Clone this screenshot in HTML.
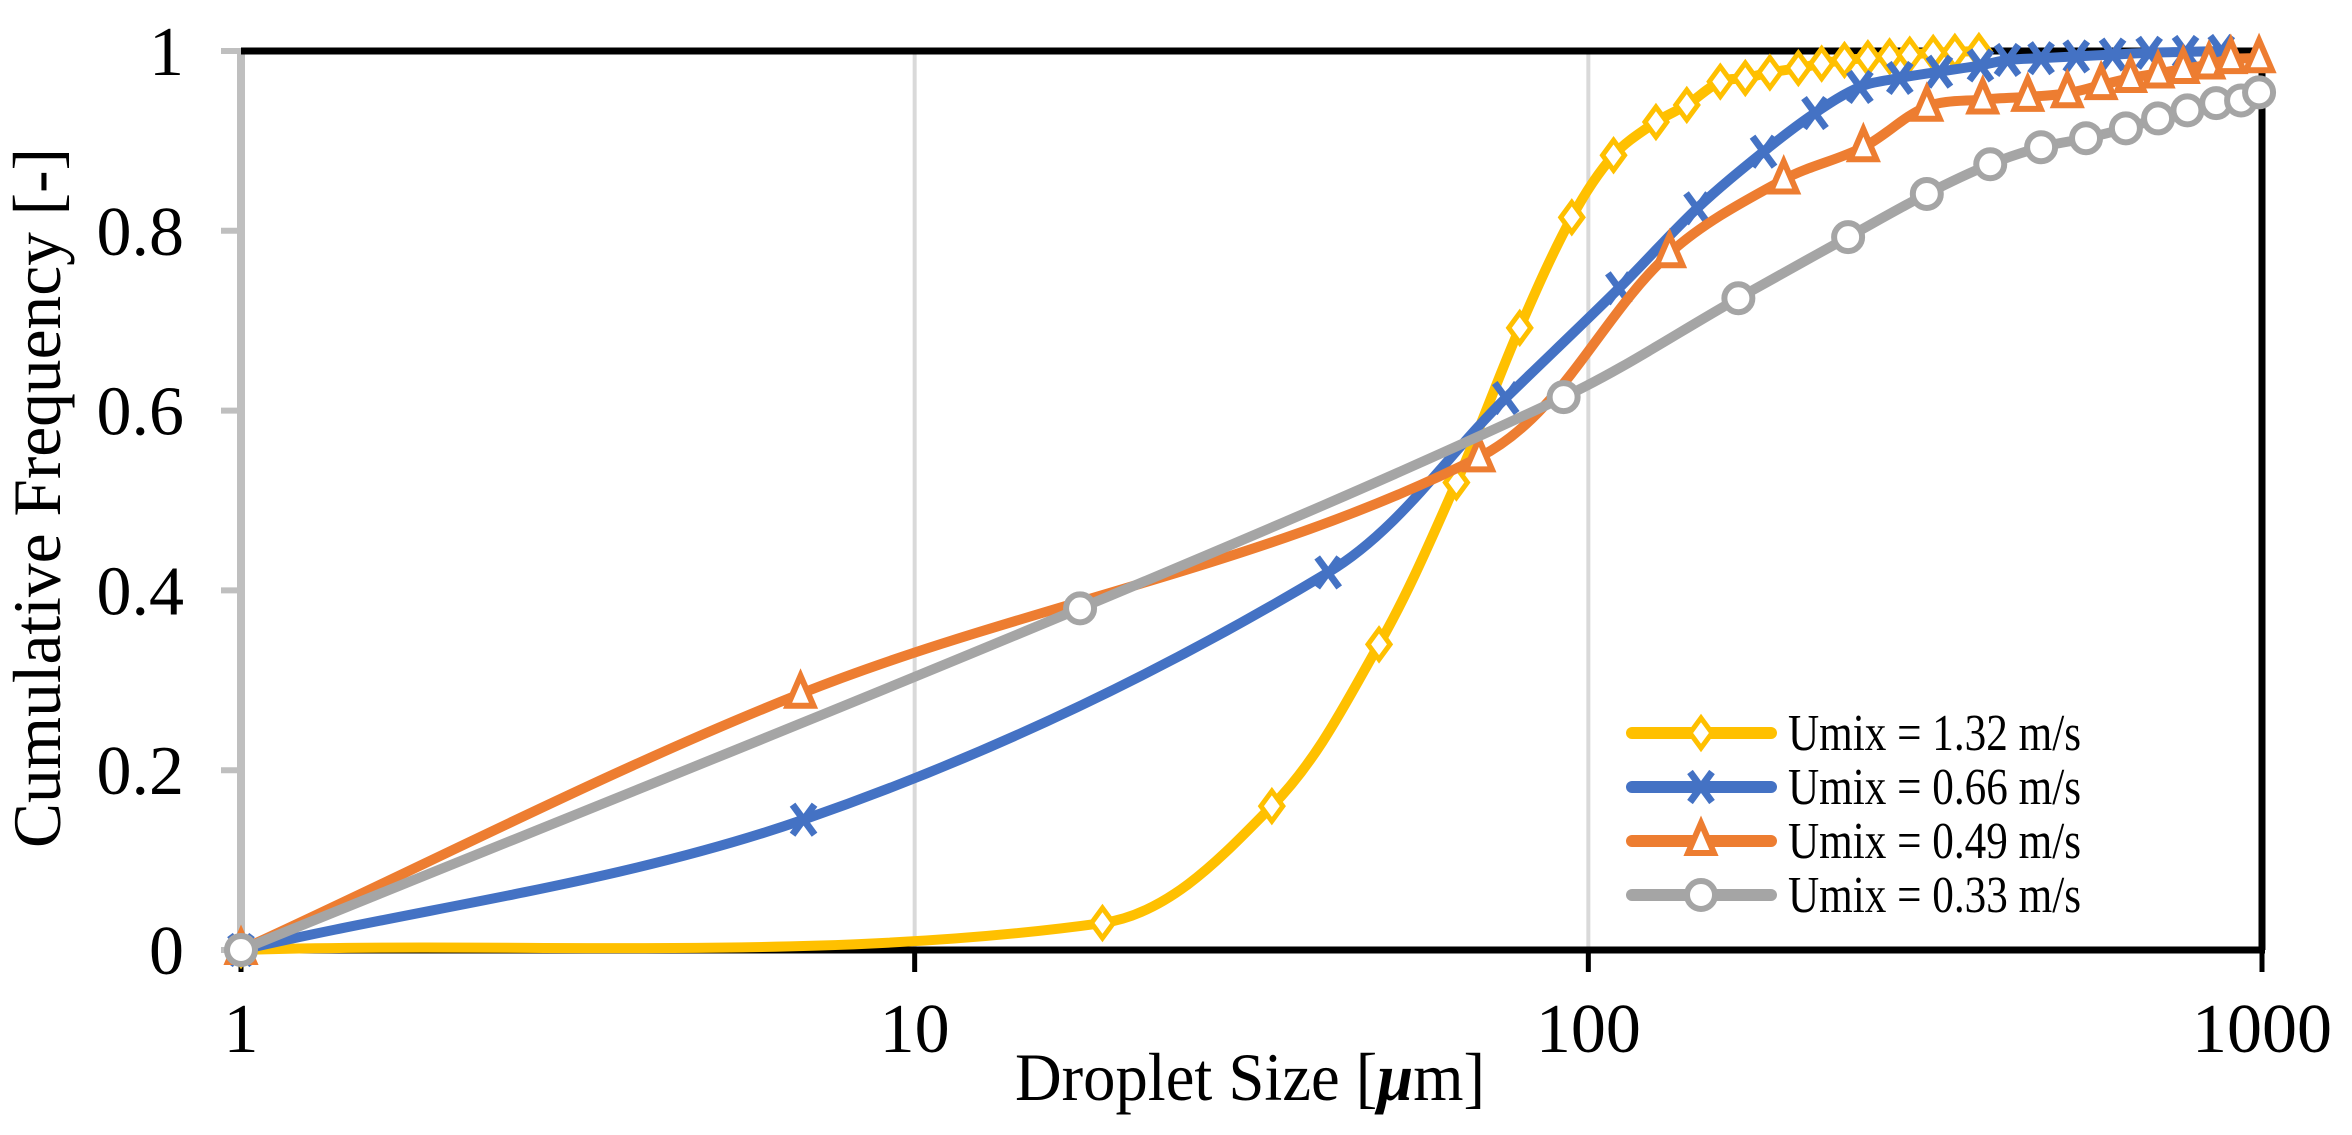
<!DOCTYPE html>
<html><head><meta charset="utf-8"><style>
html,body{margin:0;padding:0;background:#fff;}
svg{display:block;}
text{font-family:"Liberation Serif",serif;fill:#000;}
</style></head><body>
<svg id="chart" width="2352" height="1135" viewBox="0 0 2352 1135" xmlns="http://www.w3.org/2000/svg">
<g id="grid"></g>
<g id="axes"></g>
<g id="series"></g>
<g id="legend"></g>
<text x="1250" y="1100" font-size="68" text-anchor="middle" textLength="470" lengthAdjust="spacingAndGlyphs">Droplet Size [<tspan font-style="italic" font-weight="bold">μ</tspan>m]</text>
<text transform="translate(60,498) rotate(-90)" font-size="68" text-anchor="middle" textLength="700" lengthAdjust="spacingAndGlyphs">Cumulative Frequency [-]</text>
</svg>
<script>
const xTicks=[1,10,100,1000];
const xTickLabels=["1","10","100","1000"];
const yTicks=[0,0.2,0.4,0.6,0.8,1];
const yTickLabels=["0","0.2","0.4","0.6","0.8","1"];
const seriesNames=["Umix = 1.32 m/s","Umix = 0.66 m/s","Umix = 0.49 m/s","Umix = 0.33 m/s"];
const xYellow=[1,19,33.9,48.9,63.7,79.1,94.5,109,126,140,157,171,186,205,222,240,260,280,300,325,350,380];
const yYellow=[0,0.03,0.16,0.34,0.52,0.692,0.815,0.884,0.921,0.94,0.966,0.97,0.976,0.981,0.986,0.99,0.992,0.994,0.996,0.998,0.999,1.0];
const xBlue=[1,6.84,41.1,75.4,111,145,182,217,253,290,332,382,419,470,530,600,680,770,870];
const yBlue=[0,0.145,0.42,0.614,0.736,0.825,0.888,0.931,0.96,0.97,0.977,0.984,0.99,0.992,0.994,0.996,0.998,0.999,1.0];
const xOrange=[1,6.77,68.8,132,195,256,318,385,449,514,577,638,701,764,834,899,990];
const yOrange=[0,0.285,0.548,0.775,0.857,0.893,0.938,0.946,0.949,0.953,0.962,0.97,0.975,0.98,0.985,0.991,0.992];
const xGray=[1,17.6,91.9,167,243,318,395,470,548,628,701,775,855,931,990];
const yGray=[0,0.38,0.615,0.725,0.793,0.841,0.874,0.893,0.903,0.914,0.925,0.934,0.942,0.945,0.954];

const L=241,R=2262,T=51,B=950;
const sx=v=>L+(Math.log10(v))/3*(R-L);
const sy=v=>B-v*(B-T);
const NS="http://www.w3.org/2000/svg";
function mk(tag,parent,attrs){const e=document.createElementNS(NS,tag);for(const k in attrs)e.setAttribute(k,attrs[k]);parent.appendChild(e);return e;}
const grid=document.getElementById('grid'),axes=document.getElementById('axes'),ser=document.getElementById('series'),leg=document.getElementById('legend');

xTicks.forEach((t,i)=>{
  if(i>0&&i<xTicks.length-1){const g=mk('line',grid,{x1:sx(t),x2:sx(t),y1:T,y2:B,stroke:'#d9d9d9','stroke-width':4});
  
  }
  const tk=mk('line',axes,{x1:sx(t),x2:sx(t),y1:B,y2:B+22,stroke:'#000','stroke-width':5});
  
  
  const lb=mk('text',axes,{x:sx(t),y:1052,'font-size':70,'text-anchor':'middle'});
  lb.textContent=xTickLabels[i];
  
  
});
yTicks.forEach((t,i)=>{
  const tk=mk('line',axes,{x1:221,x2:L,y1:sy(t),y2:sy(t),stroke:'#bfbfbf','stroke-width':6});
  
  
  const lb=mk('text',axes,{x:184,y:sy(t)+24,'font-size':70,'text-anchor':'end'});
  lb.textContent=yTickLabels[i];
  
  
});
let a=mk('line',axes,{x1:L,x2:L,y1:T-3,y2:B,stroke:'#bfbfbf','stroke-width':8});


a=mk('line',axes,{x1:L,x2:R+3,y1:T,y2:T,stroke:'#000','stroke-width':7});


a=mk('line',axes,{x1:R,x2:R,y1:T,y2:B,stroke:'#000','stroke-width':7});


a=mk('line',axes,{x1:L,x2:R+3,y1:B,y2:B,stroke:'#000','stroke-width':7});



function smooth(pts){
  const n=pts.length;
  const tan=pts.map((p,i)=>{
    const a=pts[Math.max(0,i-1)],b=pts[Math.min(n-1,i+1)];
    const dx=b[0]-a[0],dy=b[1]-a[1],l=Math.hypot(dx,dy)||1;
    return [dx/l,dy/l];
  });
  let d=`M${pts[0][0]},${pts[0][1]}`;
  for(let i=0;i<n-1;i++){
    const p1=pts[i],p2=pts[i+1];
    const len=Math.hypot(p2[0]-p1[0],p2[1]-p1[1])/3;
    const c1=[p1[0]+tan[i][0]*len,p1[1]+tan[i][1]*len];
    const c2=[p2[0]-tan[i+1][0]*len,p2[1]-tan[i+1][1]*len];
    d+=` C${c1[0]},${c1[1]} ${c2[0]},${c2[1]} ${p2[0]},${p2[1]}`;
  }
  return d;
}
function marker(g,type,x,y,color){
  let m;
  if(type==='diamond') m=mk('path',g,{d:`M${x},${y-15} L${x+11},${y} L${x},${y+15} L${x-11},${y} Z`,fill:'#fff',stroke:color,'stroke-width':5});
  else if(type==='x'){m=mk('path',g,{d:`M${x-11},${y-15} L${x+11},${y+15} M${x+11},${y-15} L${x-11},${y+15}`,stroke:color,'stroke-width':7,fill:'none'});}
  else if(type==='tri') m=mk('path',g,{d:`M${x},${y-18} L${x+13},${y+12} L${x-13},${y+12} Z`,fill:'#fff',stroke:color,'stroke-width':6,'stroke-linejoin':'miter'});
  else m=mk('circle',g,{cx:x,cy:y,r:14,fill:'#fff',stroke:color,'stroke-width':6});
  return m;
}
const defs=[
  {xs:xYellow,ys:yYellow,c:'#ffc000',m:'diamond',n:'series-umix-1-32'},
  {xs:xBlue,ys:yBlue,c:'#4472c4',m:'x',n:'series-umix-0-66'},
  {xs:xOrange,ys:yOrange,c:'#ed7d31',m:'tri',n:'series-umix-0-49'},
  {xs:xGray,ys:yGray,c:'#a5a5a5',m:'circle',n:'series-umix-0-33'}
];
defs.forEach((s,si)=>{
  const g=mk('g',ser,{});
  
  
  const pts=s.xs.map((v,i)=>[sx(v),sy(s.ys[i])]);
  const p=mk('path',g,{d:smooth(pts),fill:'none',stroke:s.c,'stroke-width':10,'stroke-linecap':'round','stroke-linejoin':'round'});
  
  
  pts.forEach(pt=>{const m=marker(g,s.m,pt[0],pt[1],s.c);
    
    });
  const ly=733+si*54;
  const ent=mk('g',leg,{});
  
  
  mk('line',ent,{x1:1632,x2:1771,y1:ly,y2:ly,stroke:s.c,'stroke-width':12,'stroke-linecap':'round'});
  marker(ent,s.m,1701,ly,s.c);
  const t=mk('text',ent,{x:1788,y:ly+17,'font-size':52,textLength:293,lengthAdjust:'spacingAndGlyphs'});
  t.textContent=seriesNames[si];
});
</script>
</body></html>
